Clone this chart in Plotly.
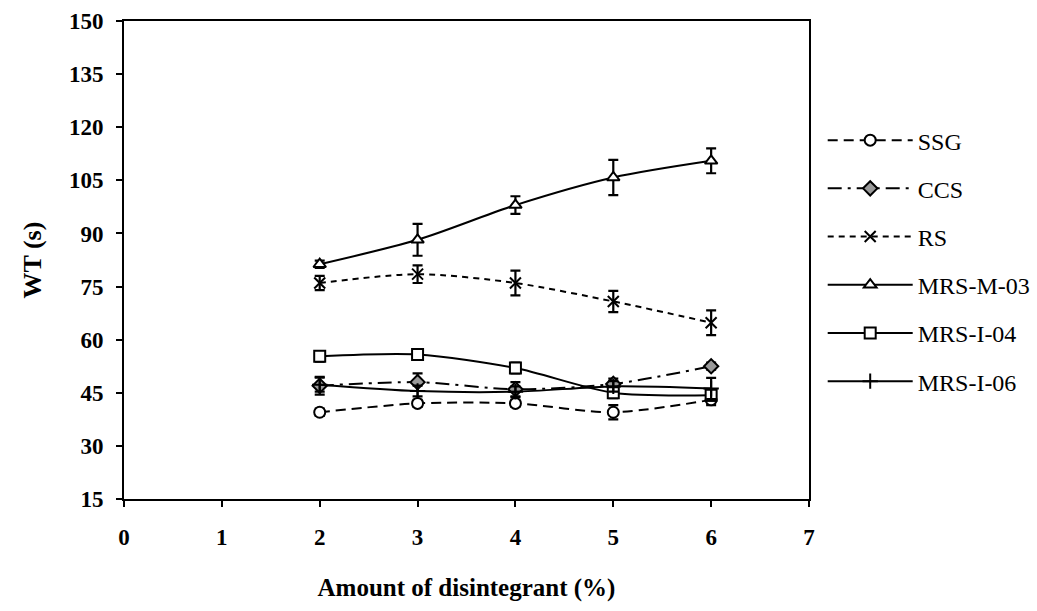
import plotly.graph_objects as go

# Amount of disintegrant (%)
disintegrant = [2, 3, 4, 5, 6]

# Wetting time (s), mean values per formulation
ssg = [39.5, 42.0, 42.0, 39.5, 43.0]
ccs = [47.0, 48.0, 46.0, 47.5, 52.5]
rs = [76.0, 78.5, 76.0, 70.8, 64.8]
mrs_m_03 = [81.3, 88.2, 98.0, 105.8, 110.5]
mrs_i_04 = [55.3, 55.8, 52.0, 45.0, 44.3]
mrs_i_06 = [47.3, 45.5, 45.3, 46.8, 46.2]

# Standard deviations
ssg_sd = [1.0, 1.0, 1.0, 2.0, 1.5]
ccs_sd = [2.5, 2.5, 2.0, 1.5, 1.0]
rs_sd = [2.0, 2.5, 3.5, 3.0, 3.5]
mrs_m_03_sd = [1.0, 4.5, 2.5, 5.0, 3.5]
mrs_i_04_sd = [1.5, 1.0, 1.5, 1.5, 1.5]
mrs_i_06_sd = [2.0, 1.5, 1.5, 1.5, 3.0]

x_ticks = [0, 1, 2, 3, 4, 5, 6, 7]
y_ticks = [15, 30, 45, 60, 75, 90, 105, 120, 135, 150]

SERIF = "Liberation Serif"

# name, values, sd, symbol, fill colour, dash pattern
series = [
    ("SSG", ssg, ssg_sd, "circle", "white", "10px,6px"),
    ("CCS", ccs, ccs_sd, "diamond", "#9a9a9a", "14px,6px,3px,6px"),
    ("RS", rs, rs_sd, "x-thin", "black", "6px,5px"),
    ("MRS-M-03", mrs_m_03, mrs_m_03_sd, "triangle-up", "white", "solid"),
    ("MRS-I-04", mrs_i_04, mrs_i_04_sd, "square", "white", "solid"),
    ("MRS-I-06", mrs_i_06, mrs_i_06_sd, "cross-thin", "black", "solid"),
]

fig = go.Figure()
for i, (name, vals, sd, sym, fill, dash) in enumerate(series):
    fig.add_trace(go.Scatter(
        x=disintegrant, y=vals, name=name, mode="lines+markers",
        legendgroup=f"g{i}",
        line=dict(color="black", width=2, dash=dash, shape="spline", smoothing=0.8),
        marker=dict(symbol=sym, size=11, color=fill,
                    line=dict(color="black", width=2)),
        error_y=dict(type="data", array=sd, visible=True,
                     color="black", thickness=2.2, width=5),
    ))

axis_common = dict(
    showline=True, linecolor="black", linewidth=2, mirror=True,
    ticks="outside", ticklen=6, tickwidth=1.5, tickcolor="black",
    showgrid=False, zeroline=False,
    tickfont=dict(family=SERIF, size=23, color="black", weight="bold"),
)

fig.update_layout(
    width=1037, height=611,
    paper_bgcolor="white", plot_bgcolor="white",
    margin=dict(l=124, r=228, t=21, b=112, autoexpand=False),
    xaxis=dict(range=[0, 7], tickvals=x_ticks, ticklabelstandoff=10,
               title=dict(text="Amount of disintegrant (%)", standoff=30,
                          font=dict(family=SERIF, size=25, color="black", weight="bold")),
               **axis_common),
    yaxis=dict(range=[15, 150], tickvals=y_ticks, ticklabelstandoff=8,
               title=dict(text="WT (s)", standoff=20,
                          font=dict(family=SERIF, size=26, color="black", weight="bold")),
               **axis_common),
    legend=dict(x=1.02, y=0.797, xanchor="left", yanchor="top",
                font=dict(family=SERIF, size=24, color="black"),
                bgcolor="rgba(0,0,0,0)", tracegroupgap=14, itemwidth=85),
    showlegend=True,
)

fig.write_html("out.html")
